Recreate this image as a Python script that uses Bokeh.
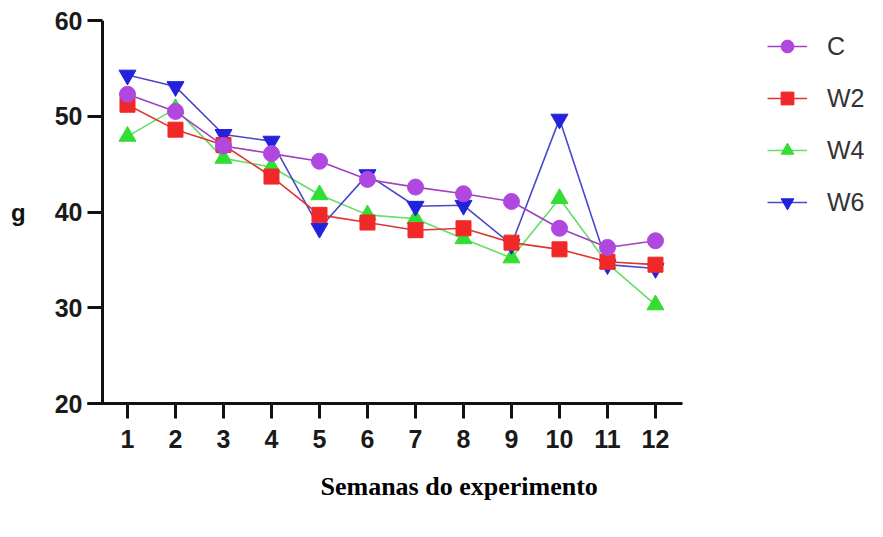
from bokeh.plotting import figure
from bokeh.models import Range1d, Legend, LegendItem, FixedTicker, LinearAxis, Title
from bokeh.embed import file_html
from bokeh.resources import INLINE

weeks = [1, 2, 3, 4, 5, 6, 7, 8, 9, 10, 11, 12]
C = [52.3, 50.5, 46.9, 46.1, 45.3, 43.4, 42.6, 41.9, 41.1, 38.3, 36.3, 37.0]
W2 = [51.2, 48.6, 47.0, 43.7, 39.7, 38.9, 38.1, 38.3, 36.8, 36.1, 34.8, 34.5]
W4 = [47.9, 50.8, 45.6, 44.7, 41.8, 39.7, 39.3, 37.2, 35.2, 41.4, 34.6, 30.3]
W6 = [54.3, 53.1, 48.1, 47.4, 38.3, 43.9, 40.6, 40.7, 36.6, 49.7, 34.5, 34.1]
y_ticks = [20, 30, 40, 50, 60]

x_axis_start, x_axis_end = 0.1667, 12.5625

p = figure(width=867, height=521, output_backend="svg", toolbar_location=None,
           x_range=Range1d(x_axis_start, 16.417), y_range=Range1d(20, 60),
           min_border_left=87, min_border_right=0, min_border_top=20, min_border_bottom=118)
p.outline_line_color = None
p.grid.visible = False
p.background_fill_color = "white"

def style(ax):
    ax.axis_line_width = 3
    ax.axis_line_color = "#111111"
    ax.major_tick_line_width = 3
    ax.major_tick_line_color = "#111111"
    ax.major_tick_out = 15
    ax.major_tick_in = 0
    ax.minor_tick_line_color = None
    ax.major_label_text_font = "Liberation Sans"
    ax.major_label_text_font_style = "bold"
    ax.major_label_text_font_size = "25px"
    ax.major_label_text_color = "#1a1a1a"

xa = p.xaxis[0]
style(xa)
xa.ticker = FixedTicker(ticks=weeks)
xa.bounds = (x_axis_start, x_axis_end)
xa.major_label_standoff = 11

p.add_layout(Title(text="Semanas do experimento", align="left", offset=233, standoff=38,
                   text_font="Liberation Serif", text_font_style="bold",
                   text_font_size="26px", text_color="black"), "below")

# y labels + inward ticks at the frame's left edge
ya = p.yaxis[0]
style(ya)
ya.ticker = FixedTicker(ticks=y_ticks)
ya.axis_line_color = None
ya.major_tick_out = 0
ya.major_tick_in = 15
ya.major_label_standoff = 5
ya.axis_label = "g"
ya.axis_label_orientation = "horizontal"
ya.axis_label_text_font = "Liberation Sans"
ya.axis_label_text_font_style = "bold"
ya.axis_label_text_font_size = "24px"
ya.axis_label_text_color = "#111111"
ya.axis_label_standoff = 26

# y axis line crossing the x axis just left of week 1
ya2 = LinearAxis(ticker=FixedTicker(ticks=[]), fixed_location=0.479)
style(ya2)
ya2.major_tick_line_color = None
p.add_layout(ya2, "left")

series = [
    ("W4", W4, "#66DD66", "#33DD33", "triangle", 17),
    ("W6", W6, "#4848C8", "#2222DD", "inverted_triangle", 17),
    ("W2", W2, "#E03333", "#F02828", "square", 15),
    ("C", C, "#A040C0", "#B048E0", "circle", 16),
]
items = {}
for name, vals, lc, mc, mk, sz in series:
    r1 = p.line(weeks, vals, line_color=lc, line_width=1.6)
    r2 = p.scatter(weeks, vals, marker=mk, size=sz, fill_color=mc, line_color=mc)
    items[name] = [r1, r2]

legend = Legend(items=[LegendItem(label=n, renderers=items[n]) for n in ["C", "W2", "W4", "W6"]],
                location=(680, 185), padding=0, margin=0, spacing=20,
                glyph_width=40, glyph_height=32, label_height=32, label_standoff=20,
                label_text_font="Liberation Sans", label_text_font_size="25px",
                label_text_color="#333333", border_line_color=None,
                background_fill_alpha=0)
p.add_layout(legend, "center")

open("out.html", "w").write(file_html(p, INLINE))
